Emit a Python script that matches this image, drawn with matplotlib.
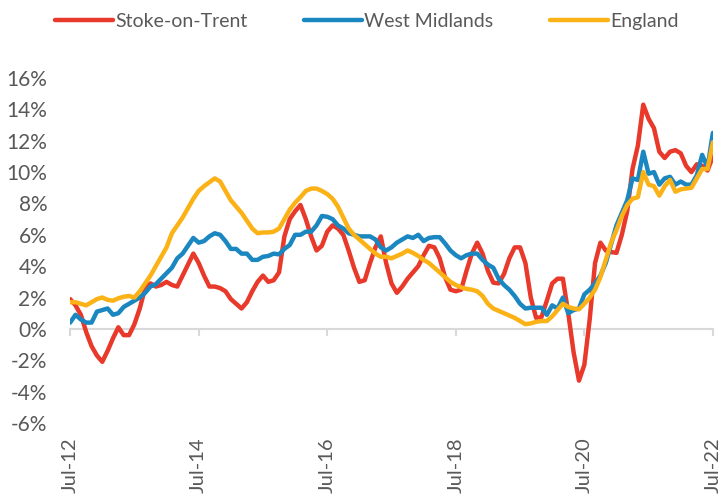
import matplotlib.pyplot as plt
import numpy as np

# monthly % change, Jul-12 .. Jul-22 (121 months)
stoke = [1.9, 1.5, 0.9, -0.2, -1.1, -1.7, -2.1, -1.4, -0.6, 0.1,
         -0.4, -0.4, 0.3, 1.3, 2.6, 2.9, 2.7, 2.8, 3.0, 2.8,
         2.7, 3.4, 4.1, 4.8, 4.2, 3.4, 2.7, 2.7, 2.6, 2.4,
         1.9, 1.6, 1.3, 1.7, 2.4, 3.0, 3.4, 3.0, 3.1, 3.6,
         5.9, 7.0, 7.5, 7.9, 7.0, 5.9, 5.0, 5.3, 6.2, 6.6,
         6.4, 6.0, 5.0, 3.9, 3.0, 3.1, 4.2, 5.2, 5.9, 4.2,
         2.9, 2.3, 2.7, 3.2, 3.6, 4.0, 4.7, 5.3, 5.2, 4.5,
         3.3, 2.5, 2.4, 2.5, 3.7, 4.8, 5.5, 4.8, 3.7, 2.95,
         2.9, 3.5, 4.5, 5.2, 5.2, 4.2, 2.0, 0.7, 0.75, 1.8,
         2.9, 3.2, 3.2, 1.0, -1.5, -3.3, -2.3, 0.6, 4.2, 5.5,
         5.0, 4.9, 4.85, 6.0, 7.5, 10.2, 11.7, 14.3, 13.4, 12.8,
         11.3, 10.9, 11.3, 11.4, 11.2, 10.4, 10.0, 10.5, 10.4, 10.1,
         11.0]

west_midlands = [0.4, 0.9, 0.6, 0.4, 0.4, 1.1, 1.2, 1.3, 0.9, 1.0,
                 1.4, 1.6, 1.8, 2.0, 2.3, 2.7, 2.85, 3.2, 3.55, 3.9,
                 4.5, 4.8, 5.3, 5.8, 5.5, 5.6, 5.9, 6.1, 6.0, 5.6,
                 5.1, 5.1, 4.8, 4.8, 4.4, 4.4, 4.6, 4.65, 4.8, 4.75,
                 5.1, 5.35, 6.0, 6.0, 6.2, 6.2, 6.6, 7.2, 7.15, 7.0,
                 6.6, 6.4, 6.1, 6.0, 5.9, 5.9, 5.9, 5.7, 5.2, 5.0,
                 5.2, 5.5, 5.7, 5.9, 5.8, 6.0, 5.6, 5.8, 5.85, 5.85,
                 5.45, 5.0, 4.7, 4.5, 4.7, 4.8, 4.8, 4.4, 4.1, 3.9,
                 3.2, 2.8, 2.5, 2.1, 1.6, 1.3, 1.35, 1.35, 1.35, 0.9,
                 1.5, 1.3, 2.0, 1.0, 1.2, 1.3, 2.2, 2.5, 2.9, 3.4,
                 4.2, 5.4, 6.6, 7.4, 8.2, 9.6, 9.5, 11.3, 9.9, 10.0,
                 9.2, 9.6, 9.7, 9.2, 9.4, 9.2, 9.2, 9.8, 11.1, 10.3,
                 12.5]

england = [1.7, 1.7, 1.6, 1.5, 1.7, 1.9, 2.0, 1.85, 1.8, 1.95,
           2.05, 2.1, 2.0, 2.4, 2.9, 3.4, 4.0, 4.6, 5.2, 6.1,
           6.6, 7.1, 7.7, 8.3, 8.8, 9.1, 9.35, 9.6, 9.4, 8.8,
           8.2, 7.8, 7.4, 6.9, 6.4, 6.1, 6.15, 6.15, 6.2, 6.4,
           7.0, 7.6, 8.05, 8.4, 8.8, 8.95, 8.95, 8.8, 8.6, 8.3,
           7.8, 7.1, 6.4, 6.0, 5.7, 5.4, 5.1, 4.8, 4.6, 4.6,
           4.5, 4.65, 4.8, 5.0, 4.85, 4.65, 4.4, 4.2, 3.9, 3.6,
           3.3, 3.0, 2.8, 2.65, 2.55, 2.5, 2.4, 2.1, 1.6, 1.3,
           1.15, 1.0, 0.85, 0.7, 0.5, 0.3, 0.35, 0.45, 0.5, 0.5,
           0.8, 1.2, 1.6, 1.4, 1.3, 1.25, 1.6, 2.0, 2.5, 3.3,
           4.4, 5.5, 6.3, 7.2, 7.9, 8.3, 8.4, 10.0, 9.2, 9.1,
           8.5, 9.1, 9.5, 8.75, 8.9, 8.95, 9.0, 9.6, 10.2, 10.2,
           11.9]

tick_labels = ["Jul-12", "Jul-14", "Jul-16", "Jul-18", "Jul-20", "Jul-22"]
yticks = list(range(-6, 17, 2))

plt.rcParams['font.family'] = ['Lato', 'DejaVu Sans']
grey = "#595959"

months = np.arange(len(stoke))

fig = plt.figure(figsize=(7.23, 4.97), dpi=100)
ax = fig.add_axes([0.097, 0.149, 0.889, 0.694])

ax.plot(months, stoke, color="#E8392A", lw=3.2, label="Stoke-on-Trent", solid_capstyle='round')
ax.plot(months, west_midlands, color="#1B87C1", lw=3.2, label="West Midlands", solid_capstyle='round')
ax.plot(months, england, color="#FBB217", lw=3.2, label="England", solid_capstyle='round')

ax.set_xlim(0, 120)
ax.set_ylim(-6, 16)
ax.set_yticks(yticks)
ax.set_yticklabels([f"{v}%" for v in yticks])

for s in ['top', 'right', 'left']:
    ax.spines[s].set_visible(False)
ax.spines['bottom'].set_position(('data', 0))
ax.spines['bottom'].set_color("#D9D9D9")
ax.spines['bottom'].set_linewidth(1.5)
ax.spines['bottom'].set_zorder(0)

ax.set_xticks(np.arange(0, 121, 24))
ax.set_xticklabels(tick_labels, rotation=90, va='top')
ax.tick_params(axis='x', colors="#D9D9D9", length=5, width=1.5, pad=73,
               labelcolor=grey, labelsize=14.5)
ax.tick_params(axis='y', length=0, labelcolor=grey, labelsize=15, pad=16.5)

fig.legend(loc='upper center', bbox_to_anchor=(0.507, 1.01), ncol=3, frameon=False,
           fontsize=14, handlelength=3.0, handletextpad=0.1, columnspacing=2.9,
           labelcolor=grey)

fig.savefig("out.png", dpi=100)
